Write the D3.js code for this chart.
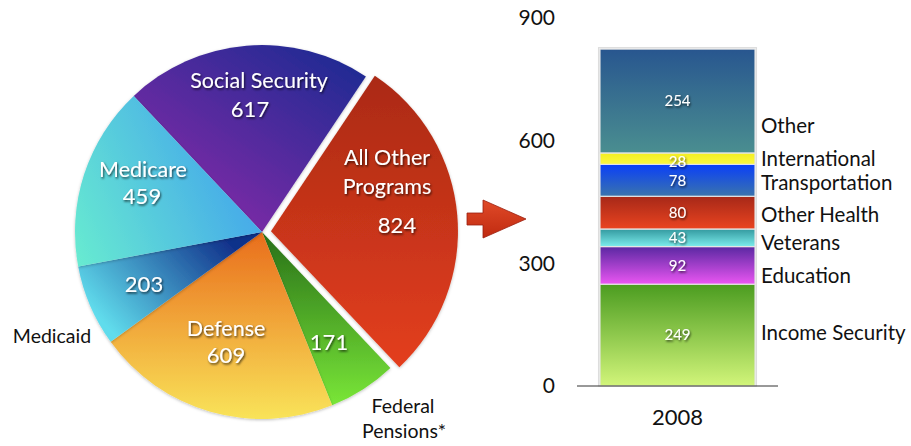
<!DOCTYPE html>
<html><head><meta charset="utf-8">
<script src="https://cdn.jsdelivr.net/npm/d3@7"></script>
<style>
html,body{margin:0;padding:0;background:#fff;}
svg{display:block;font-family:Lato,"Open Sans",sans-serif;}
</style></head><body>
<svg id="c" width="911" height="446"></svg>
<script>
// ---- Pie data (2008 outlays, $ billions) ----
const pieNames  = ["Social Security", "All Other Programs", "Federal Pensions*", "Defense", "Medicaid", "Medicare"];
const pieValues = [617, 824, 171, 609, 203, 459];

// ---- Stacked bar data ("All Other Programs" breakdown) ----
const barCategory = ["2008"];
const barSeries = ["Income Security", "Education", "Veterans", "Other Health", "Transportation", "International", "Other"];
const barValues = [249, 92, 43, 80, 78, 28, 254];
const yTicks = [0, 300, 600, 900];

const svg = d3.select("#c");
const defs = svg.append("defs");

// text shadow
const f = defs.append("filter").attr("id","ts").attr("x","-20%").attr("y","-20%").attr("width","140%").attr("height","160%");
f.append("feDropShadow").attr("dx",1).attr("dy",1.5).attr("stdDeviation",0.9).attr("flood-color","#000").attr("flood-opacity",0.7);
const ps = defs.append("filter").attr("id","ps").attr("x","-10%").attr("y","-10%").attr("width","120%").attr("height","120%");
ps.append("feDropShadow").attr("dx",0).attr("dy",1).attr("stdDeviation",1.5).attr("flood-color","#000").attr("flood-opacity",0.25);

// ---------- PIE ----------
const cx = 262, cy = 232, R = 187;
const startDeg = -43.3;
const pie = d3.pie().sort(null).value(d => d)
  .startAngle(startDeg*Math.PI/180).endAngle((startDeg+360)*Math.PI/180);
const arcs = pie(pieValues);
const arc = d3.arc().innerRadius(0).outerRadius(R);

// gradients in pie-local coords [x1,y1,x2,y2, c1, c2]
const pieGrad = [
  [110,-170, -10, 10, "#1b2a92", "#7c2aa6"],
  [0,-170, 0,160, "#a82914", "#e8401f"],
  [0,10, 0,180, "#2c761a", "#7deb39"],
  [0,0, 0,190, "#e96d1c", "#f9e55a"],
  [-40,0, -150,100, "#10308a", "#60dcec"],
  [-10,-40, -185,40, "#45a8ea", "#68ecd0"]
];
pieGrad.forEach((g,i) => {
  const lg = defs.append("linearGradient").attr("id","pg"+i).attr("gradientUnits","userSpaceOnUse")
    .attr("x1",g[0]).attr("y1",g[1]).attr("x2",g[2]).attr("y2",g[3]);
  lg.append("stop").attr("offset","0").attr("stop-color",g[4]);
  lg.append("stop").attr("offset","1").attr("stop-color",g[5]);
});

const explode = 9;
const pg = svg.append("g").attr("transform",`translate(${cx},${cy})`);
pg.selectAll("path.slice").data(arcs).join("path").attr("class","slice")
  .attr("d", arc)
  .attr("fill",(d,i)=>`url(#pg${i})`)
  .attr("transform",(d,i)=>{
    if (i!==1) return null;
    const m=(d.startAngle+d.endAngle)/2;
    return `translate(${Math.sin(m)*explode},${-Math.cos(m)*explode})`;
  })
  .attr("filter","url(#ps)");

// in-slice labels (positions relative to pie centre)
const inLab = [
  {i:0, lines:[["Social Security",-3,-144],["#",-12,-115]]},
  {i:1, lines:[["All Other",125,-67],["Programs",125,-38],["#",135,1]]},
  {i:2, lines:[["#",67,118]]},
  {i:3, lines:[["Defense",-36,104],["#",-36,131]]},
  {i:4, lines:[["#",-118,60]]},
  {i:5, lines:[["Medicare",-119,-55],["#",-120,-28]]}
];
inLab.forEach(L => {
  L.lines.forEach(([t,x,y]) => {
    const txt = t === "#" ? String(pieValues[L.i]) : t;
    pg.append("text").attr("x",x).attr("y",y).attr("text-anchor","middle")
      .attr("fill","#fff").attr("font-size", t==="#" ? 22 : 21.5).attr("filter","url(#ts)").text(txt);
  });
});
// outside labels
svg.append("text").attr("x",52).attr("y",343).attr("text-anchor","middle").attr("font-size",19.5).attr("fill","#111").text(pieNames[4]);
svg.append("text").attr("x",403).attr("y",413).attr("text-anchor","middle").attr("font-size",19.5).attr("fill","#111").text("Federal");
svg.append("text").attr("x",404).attr("y",438).attr("text-anchor","middle").attr("font-size",19.5).attr("fill","#111").text("Pensions*");

// ---------- ARROW ----------
const ag = defs.append("linearGradient").attr("id","ag").attr("x1",0).attr("y1",0).attr("x2",0).attr("y2",1);
ag.append("stop").attr("offset","0").attr("stop-color","#e04a28");
ag.append("stop").attr("offset","1").attr("stop-color","#c02a10");
svg.append("path")
  .attr("d","M467,213 L483,213 L483,200 L526,219 L483,238 L483,225 L467,225 Z")
  .attr("fill","url(#ag)").attr("stroke","#9a2010").attr("stroke-width",0.8);

// ---------- STACKED BAR ----------
const y = d3.scaleLinear().domain([0,900]).range([386,18]);
const x = d3.scaleBand().domain(barCategory).range([577,778]).paddingInner(0.129).paddingOuter(0.129);

const barGrad = [
  ["#4b9c20","#d2f57a"],
  ["#5a28a2","#ea56f2"],
  ["#33999f","#7cecec"],
  ["#a62818","#ea4420"],
  ["#0a3ff8","#3a74ac"],
  ["#f4ee20","#fbf840"],
  ["#28568f","#4a8e90"]
];
barGrad.forEach((g,i)=>{
  const lg = defs.append("linearGradient").attr("id","bg"+i).attr("x1",0).attr("y1",0).attr("x2",0).attr("y2",1);
  lg.append("stop").attr("offset","0").attr("stop-color",g[0]);
  lg.append("stop").attr("offset","1").attr("stop-color",g[1]);
});

const rows = [{cat: barCategory[0]}];
barSeries.forEach((s,i)=>rows[0][s]=barValues[i]);
const stacked = d3.stack().keys(barSeries)(rows);

const bg = svg.append("g");
const total = d3.sum(barValues);
bg.append("rect").attr("x",x("2008")-1.5).attr("width",x.bandwidth()+3)
  .attr("y",y(total)-1.5).attr("height",y(0)-y(total)+1.5)
  .attr("fill","#f0f0f0").attr("stroke","#dcdcdc");
stacked.forEach((layer,i)=>{
  const d = layer[0];
  bg.append("rect").attr("x",x(d.data.cat)).attr("width",x.bandwidth())
    .attr("y",y(d[1])).attr("height",y(d[0])-y(d[1]))
    .attr("fill",`url(#bg${i})`).attr("stroke","#e4e4e4").attr("stroke-width",1.2);
});
stacked.forEach((layer,i)=>{
  const d = layer[0];
  const ym = (y(d[0])+y(d[1]))/2;
  bg.append("text").attr("x",x(d.data.cat)+x.bandwidth()/2).attr("y",ym+(i===5?3:0)).attr("dy","0.36em")
    .attr("text-anchor","middle").attr("font-size",15).attr("fill","#fff").attr("filter","url(#ts)")
    .text(barValues[i]);
});

// baseline
svg.append("line").attr("x1",577).attr("x2",778).attr("y1",y(0)).attr("y2",y(0)).attr("stroke","#333").attr("stroke-width",1);

// y axis labels
const yAxis = d3.axisLeft(y).tickValues(yTicks).tickSize(0).tickPadding(0);
const ya = svg.append("g").attr("transform","translate(555,0)").call(yAxis);
ya.select(".domain").remove();
ya.selectAll("text").attr("font-size",21).attr("fill","#111").attr("font-family","Lato,'Open Sans',sans-serif");

// x axis label
const xAxis = d3.axisBottom(x).tickSize(0).tickPadding(0);
const xa = svg.append("g").attr("transform","translate(0,405)").call(xAxis);
xa.select(".domain").remove();
xa.selectAll("text").attr("font-size",22).attr("fill","#111").attr("dy","0.9em").attr("font-family","Lato,'Open Sans',sans-serif");

// series labels on the right
const serLabY = {"Other":133,"International":166,"Transportation":190,"Other Health":222,"Veterans":250,"Education":283,"Income Security":340};
svg.append("g").selectAll("text").data(barSeries).join("text")
  .attr("x",761).attr("y",d=>serLabY[d]).attr("font-size",20.5).attr("fill","#111").text(d=>d);
</script>
</body></html>
